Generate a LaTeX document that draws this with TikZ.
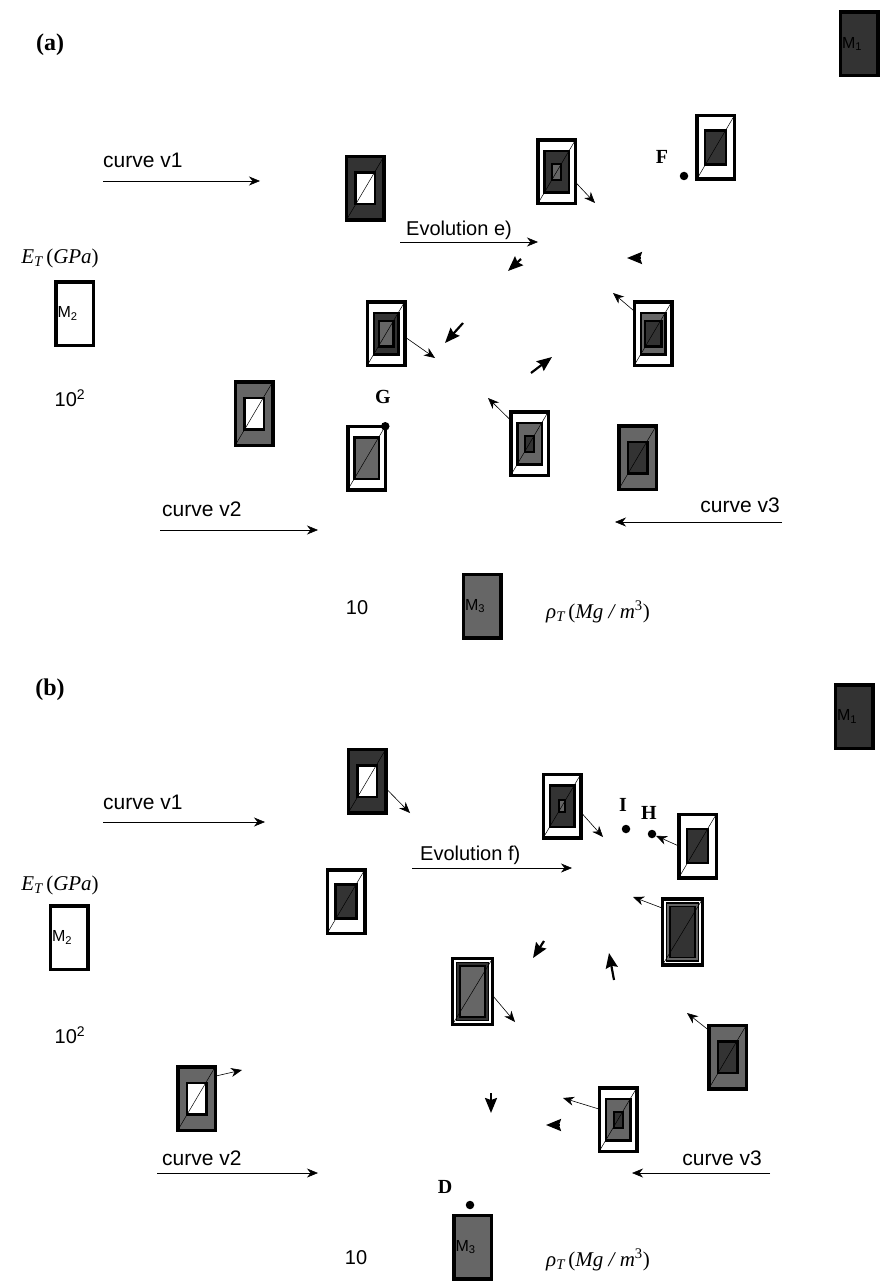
\documentclass[tikz,border=0pt]{standalone}
\usepackage{fontspec}
\setmainfont{Liberation Serif}
\setsansfont{Liberation Sans}
\usepackage{xcolor}
\usetikzlibrary{arrows.meta}
\definecolor{dk}{gray}{0.2}
\definecolor{md}{gray}{0.4}
\newcommand{\mat}[1]{\textsf{M\textsubscript{#1}}}

\begin{document}
\begin{tikzpicture}[x=1pt, y=-1pt,
    cell/.style={draw=black, line width=3.5pt, minimum width=37.5pt,
                 minimum height=63.5pt, inner sep=0pt, outer sep=0pt},
    core/.style={draw=black, line width=2.5pt, inner sep=0pt, outer sep=0pt},
    sz/.style 2 args={minimum width=#1, minimum height=#2},
    hole/.style={core, sz={19.5pt}{31.5pt}},
    plug/.style={core, sz={21pt}{34pt}},
    slab/.style={core, sz={24.5pt}{41.5pt}},
    nub/.style={core, line width=2pt, sz={9pt}{16pt}},
    diag/.style={line width=0.5pt},
    thin/.style={-{Stealth[length=11pt, width=9pt, inset=3.5pt]}, line width=0.6pt},
    fat/.style={-{Stealth[length=15pt, width=12pt, inset=2pt]}, line width=2.2pt},
    curve/.style={font=\sffamily\fontsize{21}{25}\selectfont, anchor=base west, inner sep=0pt},
    tag/.style={font=\bfseries\fontsize{20}{24}\selectfont, inner sep=0pt},
    spot/.style={circle, fill=black, inner sep=0pt, minimum size=8.5pt},
    axis/.style={font=\fontsize{21}{25}\selectfont, inner sep=0pt},
    num/.style={font=\sffamily\fontsize{20}{24}\selectfont, inner sep=0pt},
    ref/.style={cell, font=\sffamily\fontsize{16}{18}\selectfont, align=left, text width=34pt},
]
\useasboundingbox (0,0) rectangle (883,1281);

% ---------------- panel (a) ----------------
\node[tag, font=\bfseries\fontsize{24}{28}\selectfont] (pa) at (50,45) {(a)};
\node[ref, fill=dk] (m1a) at (859,44) {\mat{1}};
\node[ref, fill=white] (m2a) at (74.5,313.5) {\mat{2}};
\node[ref, fill=md] (m3a) at (482,606) {\mat{3}};
\node[axis] (eta) at (60,258) {{\itshape E}\textsubscript{\itshape T}\,(\textit{GPa})};
\node[num] (ka) at (70,398) {10\textsuperscript{2}};
\node[num] (ua) at (357,608) {10};
\node[axis] (rhoa) at (598,612) {{\itshape ρ}\textsubscript{\itshape T}\,(\textit{Mg / m}\textsuperscript{3})};

% cells
\node[cell, fill=dk] (a1) at (365,188.5) {};
\node[hole, fill=white] at (a1) {};
\node[cell, fill=white] (a2) at (556.5,172) {};
\node[slab, fill=dk] at (a2) {};
\node[nub, fill=md] at (a2) {};
\node[cell, fill=white] (a3) at (715.5,147.5) {};
\node[plug, fill=dk] at (a3) {};
\node[cell, fill=white] (a4) at (386,333.5) {};
\node[slab, fill=dk] at (a4) {};
\node[core, sz={14.5pt}{25.5pt}, fill=md] at (a4) {};
\node[cell, fill=white] (a5) at (653,333.5) {};
\node[slab, fill=md] at (a5) {};
\node[core, sz={16.5pt}{25.5pt}, fill=dk] at (a5) {};
\node[cell, fill=md] (a6) at (254,413.5) {};
\node[hole, fill=white] at (a6) {};
\node[cell, fill=white] (a7) at (366.5,458) {};
\node[slab, fill=md] at (a7) {};
\node[cell, fill=white] (a8) at (529.5,443.5) {};
\node[slab, fill=md] at (a8) {};
\node[nub, fill=dk] at (a8) {};
\node[cell, fill=md] (a9) at (637.5,457.5) {};
\node[hole, fill=dk] at (a9) {};
\foreach \c in {a1,a2,a3,a4,a5,a6,a7,a8,a9}
    \draw[diag] (\c.south west) -- (\c.north east);

% points
\node[tag] (tf) at (662,157) {F};
\node[spot] (pf) at (684,176) {};
\node[tag] (tg) at (383,397) {G};
\node[spot] (pg) at (a7.north east) {};

% curves
\coordinate (cv1s) at (103,181);  \coordinate (cv1e) at (260,181);
\coordinate (cv2s) at (160,530);  \coordinate (cv2e) at (318,530);
\coordinate (cv3s) at (782,522);  \coordinate (cv3e) at (615,522);
\coordinate (eves) at (400,242);  \coordinate (evee) at (538,242);
\node[curve] (lv1) at (103,168) {curve v1};
\node[curve] (lv2) at (162,516) {curve v2};
\node[curve, anchor=base east] (lv3) at (780,512) {curve v3};
\node[curve, font=\sffamily\fontsize{20}{24}\selectfont] (lev) at (406,236) {Evolution e)};
\foreach \a/\b in {cv1s/cv1e, cv2s/cv2e, cv3s/cv3e, eves/evee}
    \draw[thin] (\a) -- (\b);

% moves
\coordinate (t2) at (595,203);
\coordinate (t4) at (435,358);
\coordinate (t5) at (613,293);
\coordinate (t8) at (488,398);
\draw[thin] (a2.-28) -- (t2);
\draw[thin] (a4.-10) -- (t4);
\draw[thin] (a5.130) -- (t5);
\draw[thin] (a8.129) -- (t8);

% heavy heads
\coordinate (f1s) at (463,323); \coordinate (f1e) at (445,343);
\coordinate (f2s) at (531,373); \coordinate (f2e) at (552,357);
\coordinate (f3s) at (521,259); \coordinate (f3e) at (508,271);
\coordinate (f4s) at (641,258); \coordinate (f4e) at (627,258);
\foreach \a/\b in {f1s/f1e, f2s/f2e, f3s/f3e, f4s/f4e}
    \draw[fat] (\a) -- (\b);

% ---------------- panel (b) ----------------
\node[tag, font=\bfseries\fontsize{24}{28}\selectfont] (pb) at (50,690) {(b)};
\node[ref, fill=dk] (m1b) at (854,716.5) {\mat{1}};
\node[ref, fill=white] (m2b) at (69,937.5) {\mat{2}};
\node[ref, fill=md] (m3b) at (472.5,1247) {\mat{3}};
\node[axis] (etb) at (60,885) {{\itshape E}\textsubscript{\itshape T}\,(\textit{GPa})};
\node[num] (kb) at (70,1035) {10\textsuperscript{2}};
\node[num] (ub) at (356,1258) {10};
\node[axis] (rhob) at (598,1260) {{\itshape ρ}\textsubscript{\itshape T}\,(\textit{Mg / m}\textsuperscript{3})};

% cells
\node[cell, fill=dk] (b1) at (367,781) {};
\node[hole, fill=white] at (b1) {};
\node[cell, fill=white] (b2) at (562,806) {};
\node[slab, fill=dk] at (b2) {};
\node[core, line width=2pt, sz={6pt}{12pt}, fill=md] at (b2) {};
\node[cell, fill=white] (b3) at (697.5,846) {};
\node[plug, fill=dk] at (b3) {};
\node[cell, fill=white, sz={40pt}{66pt}] (b4) at (682.5,932) {};
\node[core, line width=1.5pt, sz={32pt}{58pt}, fill=md] at (b4) {};
\node[core, line width=1.5pt, sz={25pt}{51pt}, fill=dk] at (b4) {};
\node[cell, fill=white] (b5) at (346,901.5) {};
\node[plug, fill=dk] at (b5) {};
\node[cell, fill=white, sz={40pt}{66pt}] (b6) at (472.5,991.5) {};
\node[core, line width=1.5pt, sz={32pt}{58pt}, fill=dk] at (b6) {};
\node[core, line width=1.5pt, sz={25pt}{51pt}, fill=md] at (b6) {};
\node[cell, fill=md] (b7) at (196.5,1098.5) {};
\node[hole, fill=white] at (b7) {};
\node[cell, fill=md] (b8) at (727.5,1057) {};
\node[hole, fill=dk] at (b8) {};
\node[cell, fill=white] (b9) at (618,1119.5) {};
\node[slab, fill=md] at (b9) {};
\node[nub, fill=dk] at (b9) {};
\foreach \c in {b1,b2,b3,b4,b5,b6,b7,b8,b9}
    \draw[diag] (\c.south west) -- (\c.north east);

% points
\node[tag] (ti) at (623,805) {I};
\node[spot] (pi) at (626,829) {};
\node[tag] (th) at (649,813) {H};
\node[spot] (ph) at (652,834) {};
\node[tag] (td) at (445,1187) {D};
\node[spot] (pd) at (470,1205) {};

% curves
\coordinate (dv1s) at (103,822);  \coordinate (dv1e) at (265,822);
\coordinate (dv2s) at (157,1173); \coordinate (dv2e) at (318,1173);
\coordinate (dv3s) at (770,1173); \coordinate (dv3e) at (632,1173);
\coordinate (evfs) at (412,868);  \coordinate (evfe) at (572,868);
\node[curve] (mv1) at (103,809) {curve v1};
\node[curve] (mv2) at (162,1165) {curve v2};
\node[curve, anchor=base east] (mv3) at (762,1165) {curve v3};
\node[curve, font=\sffamily\fontsize{20}{24}\selectfont] (mev) at (420,860) {Evolution f)};
\foreach \a/\b in {dv1s/dv1e, dv2s/dv2e, dv3s/dv3e, evfs/evfe}
    \draw[thin] (\a) -- (\b);

% moves
\coordinate (u1) at (410,813);
\coordinate (u2) at (603,837);
\coordinate (u4) at (633,897);
\coordinate (u6) at (515,1022);
\coordinate (u7) at (242,1070);
\coordinate (u8) at (687,1013);
\coordinate (u9) at (563,1098);
\draw[thin] (b1.-21) -- (u1);
\draw[thin] (b2.-18) -- (u2);
\draw[thin] (b3.west) -- (ph);
\draw[thin] (b4.130) -- (u4);
\draw[thin] (b6.-11) -- (u6);
\draw[thin] (b7.50) -- (u7);
\draw[thin] (b8.125) -- (u8);
\draw[thin] (b9.151) -- (u9);

% heavy heads
\coordinate (g1s) at (544,941);  \coordinate (g1e) at (533,958);
\coordinate (g2s) at (614,980);  \coordinate (g2e) at (609,953);
\coordinate (g3s) at (491,1093); \coordinate (g3e) at (491,1113);
\coordinate (g4s) at (560,1125); \coordinate (g4e) at (546,1125);
\foreach \a/\b in {g1s/g1e, g2s/g2e, g3s/g3e, g4s/g4e}
    \draw[fat] (\a) -- (\b);

\end{tikzpicture}
\end{document}
